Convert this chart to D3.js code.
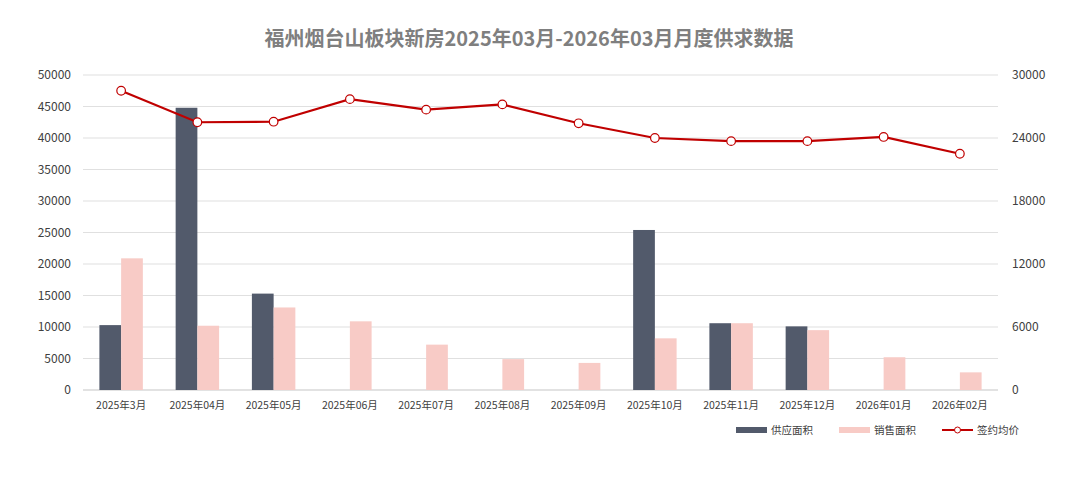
<!DOCTYPE html>
<html>
<head>
<meta charset="utf-8">
<script src="https://cdn.jsdelivr.net/npm/d3@7"></script>
<style>
  body { margin: 0; background: #fff; }
  svg text { font-family: "Noto Sans CJK SC", "Noto Sans", sans-serif; }
</style>
</head>
<body>
<div id="chart"></div>
<script>
// data
var months = ['2025年3月', '2025年04月', '2025年05月', '2025年06月', '2025年07月', '2025年08月',
              '2025年09月', '2025年10月', '2025年11月', '2025年12月', '2026年01月', '2026年02月'];
var supply = [10300, 44800, 15300, 0, 0, 0, 0, 25400, 10600, 10100, 0, 0];
var sales  = [20900, 10200, 13100, 10900, 7200, 4900, 4300, 8200, 10600, 9500, 5200, 2800];
var price  = [28500, 25500, 25550, 27700, 26700, 27200, 25400, 24000, 23700, 23700, 24100, 22500];
var leftTicks  = [0, 5000, 10000, 15000, 20000, 25000, 30000, 35000, 40000, 45000, 50000];
var rightTicks = [0, 6000, 12000, 18000, 24000, 30000];
var seriesNames = ['供应面积', '销售面积', '签约均价'];
var colors = ['#525a6b', '#f8cbc6', '#c00000'];

var width = 1080, height = 486;
var plotLeft = 83, plotRight = 998, plotTop = 75, plotBottom = 390;

var svg = d3.select('#chart').append('svg')
    .attr('width', width)
    .attr('height', height);

svg.append('text')
    .attr('x', 529)
    .attr('y', 46)
    .attr('text-anchor', 'middle')
    .attr('font-size', '20px')
    .attr('font-weight', 'bold')
    .attr('fill', '#7f7f7f')
    .text('福州烟台山板块新房2025年03月-2026年03月月度供求数据');

var x = d3.scaleBand()
    .domain(months)
    .range([plotLeft, plotRight])
    .paddingInner(0.43)
    .paddingOuter(0.215);

var x1 = d3.scaleBand()
    .domain([0, 1])
    .range([0, x.bandwidth()]);

var yL = d3.scaleLinear().domain([0, 50000]).range([plotBottom, plotTop]);
var yR = d3.scaleLinear().domain([0, 30000]).range([plotBottom, plotTop]);

// gridlines
svg.selectAll('line.grid')
    .data(leftTicks)
    .enter()
    .append('line')
    .attr('class', 'grid')
    .attr('x1', plotLeft)
    .attr('x2', plotRight)
    .attr('y1', function(d){ return yL(d); })
    .attr('y2', function(d){ return yL(d); })
    .attr('stroke', function(d){ return d == 0 ? '#d9d9d9' : '#e0e0e0'; })
    .attr('stroke-width', function(d){ return d == 0 ? 1.5 : 1.2; });

// left axis
var axL = svg.append('g')
    .attr('transform', 'translate(' + (plotLeft - 12) + ',0)')
    .call(d3.axisLeft(yL).tickValues(leftTicks).tickSize(0).tickPadding(0).tickFormat(d3.format('d')));
axL.select('.domain').remove();
axL.selectAll('text').attr('font-size', '12px').attr('fill', '#404040');

// right axis
var axR = svg.append('g')
    .attr('transform', 'translate(' + (plotRight + 14) + ',0)')
    .call(d3.axisRight(yR).tickValues(rightTicks).tickSize(0).tickPadding(0).tickFormat(d3.format('d')));
axR.select('.domain').remove();
axR.selectAll('text').attr('font-size', '12px').attr('fill', '#404040');

// bottom axis
var axB = svg.append('g')
    .attr('transform', 'translate(0,' + (plotBottom + 10) + ')')
    .call(d3.axisBottom(x).tickSize(0).tickPadding(0));
axB.select('.domain').remove();
axB.selectAll('text').attr('font-size', '10.5px').attr('fill', '#404040').attr('dy', '0.9em');

// bars
var groups = svg.selectAll('g.month')
    .data(months)
    .enter()
    .append('g')
    .attr('class', 'month')
    .attr('transform', function(d){ return 'translate(' + x(d) + ',0)'; });

groups.append('rect')
    .attr('x', x1(0))
    .attr('width', x1.bandwidth())
    .attr('y', function(d, i){ return yL(supply[i]); })
    .attr('height', function(d, i){ return plotBottom - yL(supply[i]); })
    .attr('fill', colors[0]);

groups.append('rect')
    .attr('x', x1(1))
    .attr('width', x1.bandwidth())
    .attr('y', function(d, i){ return yL(sales[i]); })
    .attr('height', function(d, i){ return plotBottom - yL(sales[i]); })
    .attr('fill', colors[1]);

// price line
var line = d3.line()
    .x(function(d, i){ return x(months[i]) + x.bandwidth() / 2; })
    .y(function(d){ return yR(d); });

svg.append('path')
    .datum(price)
    .attr('d', line)
    .attr('fill', 'none')
    .attr('stroke', colors[2])
    .attr('stroke-width', 2.2);

svg.selectAll('circle.pt')
    .data(price)
    .enter()
    .append('circle')
    .attr('class', 'pt')
    .attr('cx', function(d, i){ return x(months[i]) + x.bandwidth() / 2; })
    .attr('cy', function(d){ return yR(d); })
    .attr('r', 4.3)
    .attr('fill', '#fff')
    .attr('stroke', colors[2])
    .attr('stroke-width', 1.2);

// legend
var legendX = [736, 839, 942];
var lg = svg.selectAll('g.legend')
    .data(seriesNames)
    .enter()
    .append('g')
    .attr('class', 'legend')
    .attr('transform', function(d, i){ return 'translate(' + legendX[i] + ',430)'; });

lg.filter(function(d, i){ return i < 2; })
    .append('rect')
    .attr('x', 0)
    .attr('y', -3)
    .attr('width', 31)
    .attr('height', 6)
    .attr('fill', function(d, i){ return colors[i]; });

var lineLg = lg.filter(function(d, i){ return i == 2; });
lineLg.append('line')
    .attr('x1', 0).attr('x2', 31)
    .attr('y1', 0).attr('y2', 0)
    .attr('stroke', colors[2])
    .attr('stroke-width', 2);
lineLg.append('circle')
    .attr('cx', 15.5).attr('cy', 0).attr('r', 3)
    .attr('fill', '#fff')
    .attr('stroke', colors[2])
    .attr('stroke-width', 1);

lg.append('text')
    .attr('x', 35)
    .attr('y', 0)
    .attr('dy', '0.35em')
    .attr('font-size', '10.5px')
    .attr('fill', '#404040')
    .text(function(d){ return d; });
</script>
</body>
</html>
